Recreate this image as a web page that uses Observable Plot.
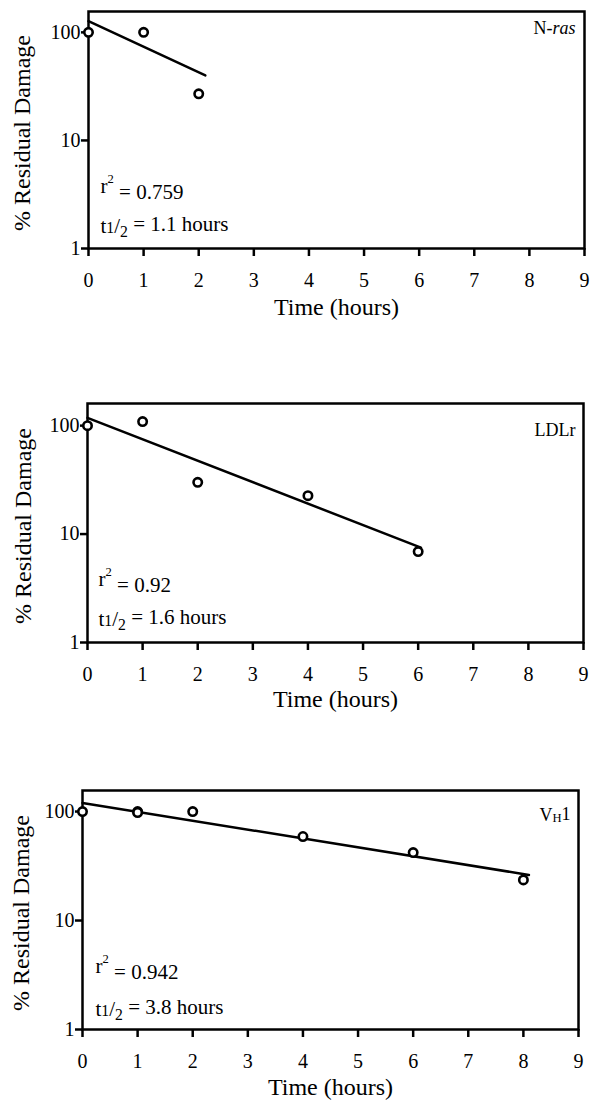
<!DOCTYPE html>
<html>
<head>
<meta charset="utf-8">
<script src="https://cdn.jsdelivr.net/npm/d3@7"></script>
<script src="https://cdn.jsdelivr.net/npm/@observablehq/plot@0.6"></script>
<style>
  html, body { margin: 0; padding: 0; background: #fff; }
  #chart svg { display: block; }
  #chart svg, #chart svg text { font-family: "Liberation Serif", "Times New Roman", serif !important; }
</style>
</head>
<body>
<div id="chart"></div>
<script>
// ---- data ----
const hourTicks = [0, 1, 2, 3, 4, 5, 6, 7, 8, 9];
const damageTicks = [1, 10, 100];
const xLabel = "Time (hours)";
const yLabel = "% Residual Damage";

const nrasTime = [0, 1, 2];
const nrasDamage = [100, 100, 27];
const nrasFitTime = [0, 2.12];
const nrasFitDamage = [127, 40];
const nrasR2 = "0.759";
const nrasHalf = "1.1";

const ldlrTime = [0, 1, 2, 4, 6];
const ldlrDamage = [100, 109, 30, 22.6, 6.9];
const ldlrFitTime = [0, 6.05];
const ldlrFitDamage = [118, 7.5];
const ldlrR2 = "0.92";
const ldlrHalf = "1.6";

const vh1Time = [0, 1, 1, 2, 4, 6, 8];
const vh1Damage = [100, 100, 98, 100, 59, 42, 23.6];
const vh1FitTime = [0, 8.1];
const vh1FitDamage = [120, 26.2];
const vh1R2 = "0.942";
const vh1Half = "3.8";

const geneNames = ["N-ras", "LDLr", "VH1"];

// ---- layout ----
const FONT = "'Liberation Serif', 'Times New Roman', serif";
const W = 591;
const panels = [
  {name: geneNames[0], t: nrasTime, d: nrasDamage, ft: nrasFitTime, fd: nrasFitDamage, r2: nrasR2, half: nrasHalf,
   height: 392, mt: 11, mb: 144, ml: 88, mr: 7, top: 156,
   r2Dx: 12, r2Base: 56, halfBase: 16, nameDx: -9, nameBase: 22, xlBase: 66, ylDx: -66, ylDy: 3},
  {name: geneNames[1], t: ldlrTime, d: ldlrDamage, ft: ldlrFitTime, fd: ldlrFitDamage, r2: ldlrR2, half: ldlrHalf,
   height: 388, mt: 11, mb: 138, ml: 87, mr: 8, top: 160,
   r2Dx: 11, r2Base: 57, halfBase: 17, nameDx: -8, nameBase: 32, xlBase: 64, ylDx: -64.5, ylDy: 3},
  {name: geneNames[2], t: vh1Time, d: vh1Damage, ft: vh1FitTime, fd: vh1FitDamage, r2: vh1R2, half: vh1Half,
   height: 320, mt: 10, mb: 71, ml: 82, mr: 13, top: 156,
   r2Dx: 13, r2Base: 57, halfBase: 14, nameDx: -8, nameBase: 30, xlBase: 65, ylDx: -61, ylDy: 3}
];

const annFs = 21, nameFs = 18, labelFs = 24, tickFs = 20;

function rich(svg, str, parts) {
  d3.select(svg).selectAll("text").filter(function() { return this.textContent === str && this.childElementCount === 0; })
    .each(function() {
      const el = d3.select(this);
      el.text(null);
      let cur = 0;
      for (const p of parts) {
        const ts = el.append("tspan").text(p.t);
        const target = p.dy || 0;
        if (target !== cur) { ts.attr("dy", (target - cur) + "em"); cur = target; }
        if (p.size) ts.attr("font-size", p.size);
        if (p.italic) ts.attr("font-style", "italic");
      }
    });
}

const root = document.getElementById("chart");
for (const p of panels) {
  const svg = Plot.plot({
    width: W,
    height: p.height,
    marginTop: p.mt, marginBottom: p.mb, marginLeft: p.ml, marginRight: p.mr,
    style: {fontFamily: FONT, fontSize: tickFs + "px", background: "white", color: "black"},
    x: {domain: [0, 9]},
    y: {type: "log", domain: [1, p.top]},
    marks: [
      Plot.axisX({ticks: hourTicks, tickSize: 8, tickPadding: 16, strokeWidth: 2.5, fontSize: tickFs, label: null}),
      Plot.axisY({ticks: damageTicks, tickSize: 7, tickPadding: 1, strokeWidth: 2.5, fontSize: tickFs, tickFormat: d => String(d), label: null}),
      Plot.frame({stroke: "black", strokeWidth: 2.5}),
      Plot.line(p.fd, {x: p.ft, y: p.fd, stroke: "black", strokeWidth: 2.5}),
      Plot.dot(p.d, {x: p.t, y: p.d, r: 4.2, stroke: "black", strokeWidth: 2.6, fill: "white"}),
      Plot.text(["R2:" + p.r2], {frameAnchor: "bottom-left", lineAnchor: "middle", textAnchor: "start", dx: p.r2Dx, dy: -p.r2Base - 0.32 * annFs, fontSize: annFs, fill: "black"}),
      Plot.text(["HALF:" + p.half], {frameAnchor: "bottom-left", lineAnchor: "middle", textAnchor: "start", dx: p.r2Dx, dy: -p.halfBase - 0.32 * annFs, fontSize: annFs, fill: "black"}),
      Plot.text([p.name], {frameAnchor: "top-right", lineAnchor: "middle", textAnchor: "end", dx: p.nameDx, dy: p.nameBase - 0.32 * nameFs, fontSize: nameFs, fill: "black"}),
      Plot.text([xLabel], {frameAnchor: "bottom", lineAnchor: "middle", textAnchor: "middle", dy: p.xlBase - 0.32 * labelFs, fontSize: labelFs, fill: "black"}),
      Plot.text([yLabel], {frameAnchor: "left", lineAnchor: "middle", textAnchor: "middle", rotate: -90, dx: p.ylDx, dy: p.ylDy, fontSize: labelFs, fill: "black"})
    ]
  });
  rich(svg, "R2:" + p.r2, [{t: "r"}, {t: "2", size: "0.6em", dy: -0.75}, {t: " = " + p.r2, dy: 0}]);
  rich(svg, "HALF:" + p.half, [{t: "t"}, {t: "1", size: "0.75em"}, {t: "/"}, {t: "2", size: "0.75em", dy: 0.3}, {t: " = " + p.half + " hours", dy: 0}]);
  rich(svg, "N-ras", [{t: "N-"}, {t: "ras", italic: true}]);
  rich(svg, "VH1", [{t: "V"}, {t: "H", size: "0.7em", dy: 0.15}, {t: "1", dy: 0}]);
  root.appendChild(svg);
}
</script>
</body>
</html>
